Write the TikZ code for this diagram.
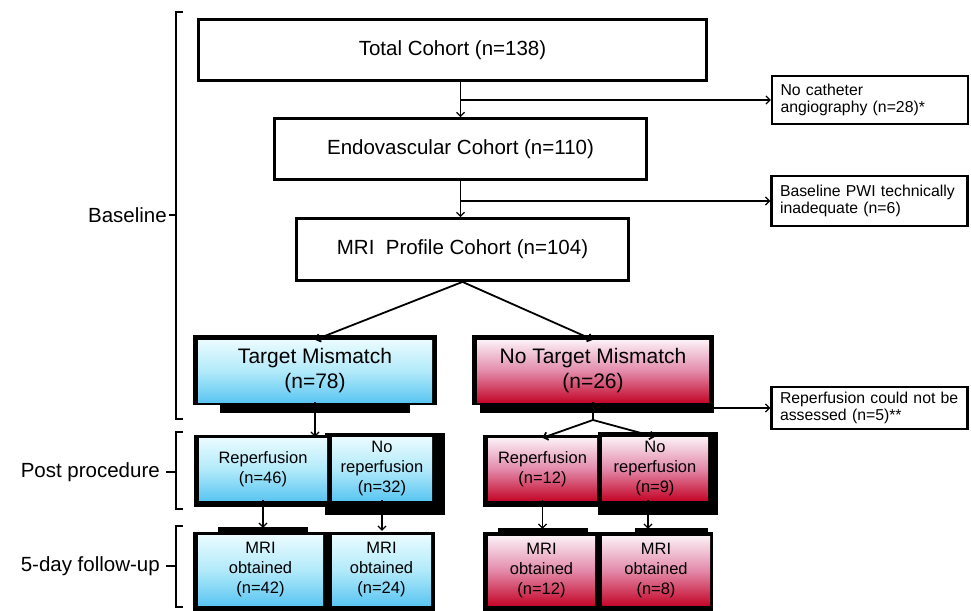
\documentclass[tikz,border=0pt]{standalone}
\usepackage{fontspec}
\setmainfont{Liberation Sans}
\usetikzlibrary{arrows.meta,calc}
\pgfdeclarelayer{bg}
\pgfsetlayers{bg,main}
\definecolor{bluetop}{HTML}{EAFBFF}
\definecolor{bluemid}{HTML}{B2EAFA}
\definecolor{bluebot}{HTML}{5CC6F2}
\definecolor{redtop}{HTML}{FBF0F5}
\definecolor{redmid}{HTML}{E38AAA}
\definecolor{redbot}{HTML}{C4092B}
\begin{document}
\begin{tikzpicture}[x=1pt,y=-1pt,
  plain/.style={draw, line width=2.8pt, inner sep=0pt, align=center, font=\fontsize{20.5}{24}\selectfont},
  side/.style={draw, line width=2.4pt, inner xsep=8.5pt, inner ysep=0pt, text width=179pt, align=left, font=\fontsize{15.8}{17.5}\selectfont},
  bluebox/.style={top color=bluetop, bottom color=bluebot, middle color=bluemid, inner sep=0pt, align=center},
  redbox/.style={top color=redtop, bottom color=redbot, middle color=redmid, inner sep=0pt, align=center},
  big/.style={font=\fontsize{21}{25}\selectfont},
  small/.style={font=\fontsize{16.5}{20}\selectfont},
  arr/.style={line width=1.2pt, -{Straight Barb[length=4pt,width=8pt]}},
  thk/.style={line width=1.8pt},
  lbl/.style={font=\fontsize{20.5}{24}\selectfont, anchor=east, inner sep=0pt},
  brk/.style={line width=1.8pt},
]
\useasboundingbox (0,0) rectangle (971,610);

% left brackets and labels
\draw[brk] (183,12) -- (176,12) -- (176,419) -- (183,419);
\draw[brk] (176,215) -- (169,215);
\node[lbl] (lbase) at (167,215) {Baseline};
\draw[brk] (183,432) -- (176,432) -- (176,509) -- (183,509);
\draw[brk] (176,472) -- (166,472);
\node[lbl] (lpost) at (160,472) {Post procedure};
\draw[brk] (183,526) -- (176,526) -- (176,607) -- (183,607);
\draw[brk] (176,566) -- (166,566);
\node[lbl] (lfollow) at (160,566) {5-day follow-up};

% plain boxes
\node[plain, minimum width=508pt, minimum height=61pt] (total) at (452.5,50) {Total Cohort (n=138)};
\node[plain, minimum width=372pt, minimum height=61pt] (endo) at (460.5,149) {Endovascular Cohort (n=110)};
\node[plain, minimum width=332pt, minimum height=62pt] (mri) at (462.5,249.5) {MRI\ \ Profile Cohort (n=104)};

% side boxes
\node[side, minimum height=47.5pt] (nocath) at (870,100) {No catheter\\angiography (n=28)*};
\node[side, minimum height=49.5pt] (pwi) at (869.5,201) {Baseline PWI technically\\inadequate (n=6)};
\node[side, minimum height=41.5pt] (reass) at (869.5,408) {Reperfusion could not be\\assessed (n=5)**};

% black frames
\begin{pgfonlayer}{bg}
\fill (193,335) rectangle (437,405); \fill (220,405) rectangle (410,413);
\fill (472,335) rectangle (714,405); \fill (480,405) rectangle (714,413);
\fill (194,435) rectangle (327,507);
\fill (325,433) rectangle (445,515);
\fill (483,435) rectangle (598,507);
\fill (598,432) rectangle (718,515);
\fill (193,532) rectangle (328,612); \fill (218,527) rectangle (308,532);
\fill (328,532) rectangle (435,612);
\fill (483,532) rectangle (598,612); \fill (498,528) rectangle (588,532);
\fill (598,532) rectangle (713,612); \fill (635,528) rectangle (708,532);
\end{pgfonlayer}

% coloured boxes
\node[bluebox, big, minimum width=234pt, minimum height=62pt] (tm) at (315,371) {Target Mismatch\\(n=78)};
\node[redbox, big, minimum width=232pt, minimum height=62pt] (ntm) at (593,371) {No Target Mismatch\\(n=26)};

\node[bluebox, small, minimum width=128pt, minimum height=62pt] (rep1) at (263,469) {Reperfusion\\(n=46)};
\node[bluebox, small, minimum width=100pt, minimum height=63pt] (norep1) at (382,468.5) {No\\reperfusion\\(n=32)};
\node[bluebox, small, minimum width=125pt, minimum height=70pt] (mri1) at (260.5,570) {MRI\\obtained\\(n=42)};
\node[bluebox, small, minimum width=99pt, minimum height=70pt] (mri2) at (381.5,570) {MRI\\obtained\\(n=24)};

\node[redbox, small, minimum width=109pt, minimum height=62pt] (rep2) at (542.5,469) {Reperfusion\\(n=12)};
\node[redbox, small, minimum width=106pt, minimum height=63pt] (norep2) at (655,468.5) {No\\reperfusion\\(n=9)};
\node[redbox, small, minimum width=107pt, minimum height=69pt] (mri3) at (541.5,570.5) {MRI\\obtained\\(n=12)};
\node[redbox, small, minimum width=108pt, minimum height=69pt] (mri4) at (656,570.5) {MRI\\obtained\\(n=8)};

% connectors
\draw[arr] (endo.north |- total.south) -- (endo.north);
\draw[arr] (endo.north |- nocath.west) -- (nocath.west);
\draw[arr] (endo.south) -- (endo.south |- mri.north);
\draw[arr] (endo.south |- pwi.west) -- (pwi.west);
\draw[arr, thk] (mri.south) -- (tm.north);
\draw[arr, thk] (mri.south) -- (ntm.north);
\draw[arr] (tm.south) -- ($(tm.south |- rep1.north)+(0,-1)$);
\coordinate (split) at (593,420);
\draw[thk] (ntm.south) -- (split);
\draw[arr, thk] (split) -- (rep2.north);
\draw[arr, thk] (split) -- (norep2.north);
\draw[arr] (split |- reass.west) -- (reass.west);
\draw[arr] (rep1.south) -- ($(rep1.south |- mri1.north)+(0,-7)$);
\draw[arr] (norep1.south) -- ($(norep1.south |- mri2.north)+(0,-4)$);
\draw[arr] (rep2.south) -- ($(rep2.south |- mri3.north)+(0,-7)$);
\draw[arr] ([xshift=-7pt]norep2.south) -- ($([xshift=-7pt]norep2.south |- mri4.north)+(0,-7)$);
\end{tikzpicture}
\end{document}
